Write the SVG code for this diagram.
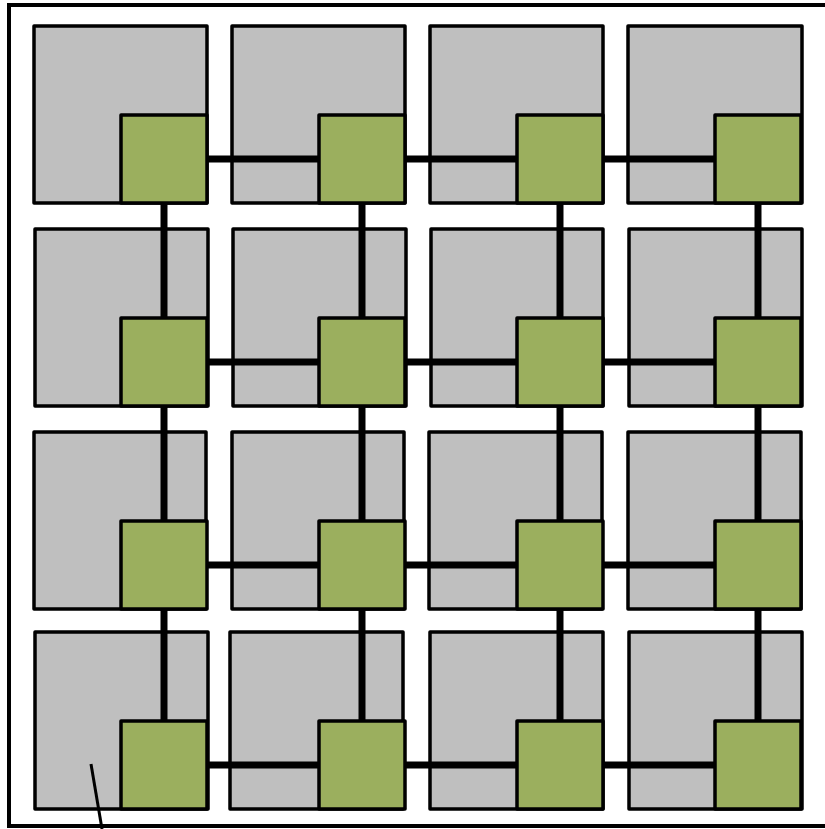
<svg xmlns="http://www.w3.org/2000/svg" width="825" height="829" viewBox="0 0 825 829">
<style>
.g{fill:#bfbfbf;stroke:#000;stroke-width:3.5;stroke-linejoin:round}
.n{fill:#9baf5e;stroke:#000;stroke-width:3.5;stroke-linejoin:round}
.c{stroke:#000;stroke-width:7;fill:none}
</style>
<rect x="0" y="0" width="825" height="829" fill="#fff"/>
<rect x="9" y="5" width="830" height="821" fill="none" stroke="#000" stroke-width="4"/>
<g id="tiles">
<rect id="t11" class="g" x="34" y="26" width="173" height="177"/>
<rect id="t12" class="g" x="232" y="26" width="173" height="177"/>
<rect id="t13" class="g" x="430" y="26" width="173" height="177"/>
<rect id="t14" class="g" x="628" y="26" width="174" height="177"/>
<rect id="t21" class="g" x="35" y="229" width="173" height="177"/>
<rect id="t22" class="g" x="233" y="229" width="173" height="177"/>
<rect id="t23" class="g" x="431" y="229" width="172" height="177"/>
<rect id="t24" class="g" x="629" y="229" width="173" height="177"/>
<rect id="t31" class="g" x="34" y="432" width="172" height="177"/>
<rect id="t32" class="g" x="232" y="432" width="172" height="177"/>
<rect id="t33" class="g" x="429" y="432" width="173" height="177"/>
<rect id="t34" class="g" x="628" y="432" width="173" height="177"/>
<rect id="t41" class="g" x="35" y="632" width="173" height="177"/>
<rect id="t42" class="g" x="230" y="632" width="173" height="177"/>
<rect id="t43" class="g" x="430" y="632" width="173" height="177"/>
<rect id="t44" class="g" x="629" y="632" width="173" height="177"/>
</g>
<g id="connectors">
<line class="c" x1="207" y1="159" x2="319" y2="159"/>
<line class="c" x1="405" y1="159" x2="517" y2="159"/>
<line class="c" x1="603" y1="159" x2="715" y2="159"/>
<line class="c" x1="207" y1="362" x2="319" y2="362"/>
<line class="c" x1="405" y1="362" x2="517" y2="362"/>
<line class="c" x1="603" y1="362" x2="715" y2="362"/>
<line class="c" x1="207" y1="565" x2="319" y2="565"/>
<line class="c" x1="405" y1="565" x2="517" y2="565"/>
<line class="c" x1="603" y1="565" x2="715" y2="565"/>
<line class="c" x1="207" y1="765" x2="319" y2="765"/>
<line class="c" x1="405" y1="765" x2="517" y2="765"/>
<line class="c" x1="603" y1="765" x2="715" y2="765"/>
<line class="c" x1="164" y1="203" x2="164" y2="318"/>
<line class="c" x1="362" y1="203" x2="362" y2="318"/>
<line class="c" x1="560" y1="203" x2="560" y2="318"/>
<line class="c" x1="758" y1="203" x2="758" y2="318"/>
<line class="c" x1="164" y1="406" x2="164" y2="521"/>
<line class="c" x1="362" y1="406" x2="362" y2="521"/>
<line class="c" x1="560" y1="406" x2="560" y2="521"/>
<line class="c" x1="758" y1="406" x2="758" y2="521"/>
<line class="c" x1="164" y1="609" x2="164" y2="721"/>
<line class="c" x1="362" y1="609" x2="362" y2="721"/>
<line class="c" x1="560" y1="609" x2="560" y2="721"/>
<line class="c" x1="758" y1="609" x2="758" y2="721"/>
</g>
<g id="nodes">
<rect id="n11" class="n" x="121" y="115" width="86" height="88"/>
<rect id="n12" class="n" x="319" y="115" width="86" height="88"/>
<rect id="n13" class="n" x="517" y="115" width="86" height="88"/>
<rect id="n14" class="n" x="715" y="115" width="86" height="88"/>
<rect id="n21" class="n" x="121" y="318" width="86" height="88"/>
<rect id="n22" class="n" x="319" y="318" width="86" height="88"/>
<rect id="n23" class="n" x="517" y="318" width="86" height="88"/>
<rect id="n24" class="n" x="715" y="318" width="86" height="88"/>
<rect id="n31" class="n" x="121" y="521" width="86" height="88"/>
<rect id="n32" class="n" x="319" y="521" width="86" height="88"/>
<rect id="n33" class="n" x="517" y="521" width="86" height="88"/>
<rect id="n34" class="n" x="715" y="521" width="86" height="88"/>
<rect id="n41" class="n" x="121" y="721" width="86" height="88"/>
<rect id="n42" class="n" x="319" y="721" width="86" height="88"/>
<rect id="n43" class="n" x="517" y="721" width="86" height="88"/>
<rect id="n44" class="n" x="715" y="721" width="86" height="88"/>
</g>
<line x1="91" y1="764" x2="102" y2="829" stroke="#000" stroke-width="3"/>
</svg>
